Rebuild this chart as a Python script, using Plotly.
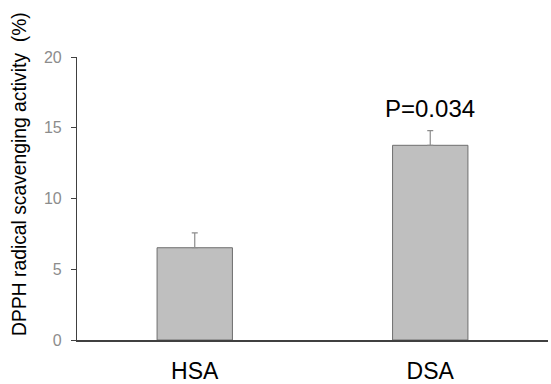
import plotly.graph_objects as go

categories = ["HSA", "DSA"]
values = [6.52, 13.76]
errors = [1.05, 1.03]
y_ticks = [0, 5, 10, 15, 20]
p_label = "P=0.034"
y_title = "DPPH radical scavenging activity  (%)"

fig = go.Figure()
fig.add_trace(go.Bar(
    x=categories, y=values,
    marker=dict(color="#bfbfbf", line=dict(color="#6e6e6e", width=1)),
    error_y=dict(type="data", array=errors, symmetric=False, arrayminus=[0, 0],
                 color="#8c8c8c", thickness=1.2, width=3),
    width=0.32,
))
fig.add_annotation(x=categories[1], y=values[1] + errors[1], yshift=7, text=p_label,
                   showarrow=False, font=dict(size=24, color="black"),
                   yanchor="bottom")
fig.add_annotation(xref="paper", yref="paper", x=-57/471, y=0.587, text=y_title, textangle=-90,
                   showarrow=False, font=dict(size=19.3, color="black"), xanchor="center", yanchor="middle")
fig.update_layout(
    width=551, height=384,
    margin=dict(l=77, r=3, t=57, b=44),
    plot_bgcolor="white", paper_bgcolor="white",
    showlegend=False,
    font=dict(family="Liberation Sans, Arial"),
)
fig.update_xaxes(showline=True, linecolor="#404040", linewidth=1.5, ticks="outside", ticklen=10,
                 tickcolor="rgba(0,0,0,0)", automargin=False,
                 tickfont=dict(size=23, color="black"), range=[-0.5, 1.5])
fig.update_yaxes(range=[0, 20], tickvals=y_ticks, showline=True, linecolor="#404040", linewidth=1.2,
                 ticks="outside", ticklen=5, tickcolor="#404040", showgrid=False, zeroline=False,
                 automargin=False, ticklabelstandoff=6,
                 tickfont=dict(size=16, color="#8c8c8c"))
fig.write_html("out.html", post_script="document.body.style.margin='0';",
               config={"displayModeBar": False})
